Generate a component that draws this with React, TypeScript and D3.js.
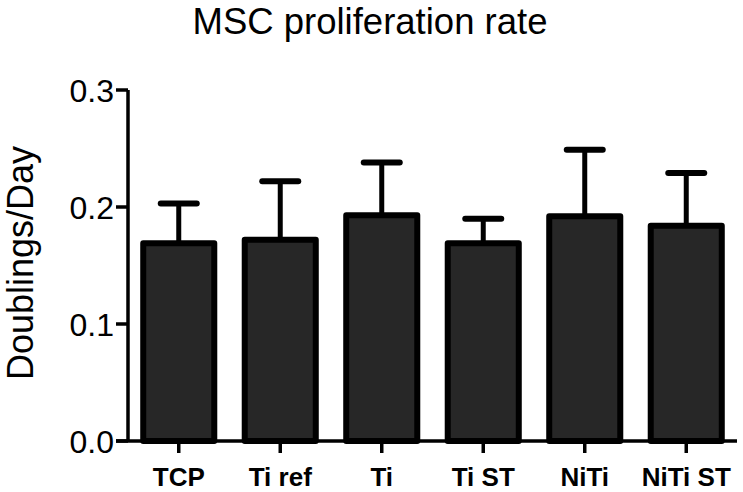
import React from "react";
import * as d3 from "d3";

const categories = ["TCP", "Ti ref", "Ti", "Ti ST", "NiTi", "NiTi ST"];
const means = [0.169, 0.172, 0.193, 0.169, 0.192, 0.184];
const errors = [0.034, 0.05, 0.045, 0.021, 0.057, 0.045];
const yTicks = [0.0, 0.1, 0.2, 0.3];
const title = "MSC proliferation rate";
const yLabel = "Doublings/Day";

const W = 743;
const H = 492;
const FONT = "'Liberation Sans', Arial, Helvetica, sans-serif";

export default function App() {
  const x = d3.scaleBand<string>().domain(categories).range([128, 737]).paddingInner(0.3).paddingOuter(0.15);
  const y = d3.scaleLinear().domain([0, 0.3]).range([441, 90]);
  const bw = x.bandwidth();
  const y0 = y(0);

  return (
    <svg width={W} height={H} style={{ position: "absolute", left: 0, top: 0, background: "#fff" }} fontFamily={FONT}>
      <text x={370} y={34} textAnchor="middle" fontSize={36.5} fill="#000">{title}</text>
      <text transform={`translate(33,263) rotate(-90)`} textAnchor="middle" fontSize={36} fill="#000">{yLabel}</text>

      {categories.map((c, i) => {
        const cx = (x(c) as number) + bw / 2;
        const top = y(means[i]);
        const cap = y(means[i] + errors[i]);
        return (
          <g key={c}>
            <line x1={cx} x2={cx} y1={top} y2={cap} stroke="#000" strokeWidth={5} />
            <line x1={cx - 18} x2={cx + 18} y1={cap} y2={cap} stroke="#000" strokeWidth={6} strokeLinecap="round" />
            <rect x={x(c)} y={top} width={bw} height={y0 - top} fill="#272727" stroke="#000" strokeWidth={6} strokeLinejoin="round" />
          </g>
        );
      })}

      {/* y axis */}
      <line x1={128} x2={128} y1={y(0.3)} y2={y0} stroke="#000" strokeWidth={3.5} />
      {yTicks.map((t) => (
        <g key={t}>
          <line x1={116} x2={128} y1={y(t)} y2={y(t)} stroke="#000" strokeWidth={3.5} />
          <text x={114} y={y(t) + 11.5} textAnchor="end" fontSize={32} fill="#000">{t.toFixed(1)}</text>
        </g>
      ))}

      {/* x axis */}
      <line x1={116} x2={737} y1={y0} y2={y0} stroke="#000" strokeWidth={3.5} />
      {categories.map((c) => {
        const cx = (x(c) as number) + bw / 2;
        return (
          <g key={c}>
            <line x1={cx} x2={cx} y1={y0} y2={y0 + 12} stroke="#000" strokeWidth={3.5} />
            <text x={cx} y={486} textAnchor="middle" fontSize={26} fontWeight="bold" fill="#000">{c}</text>
          </g>
        );
      })}
    </svg>
  );
}
